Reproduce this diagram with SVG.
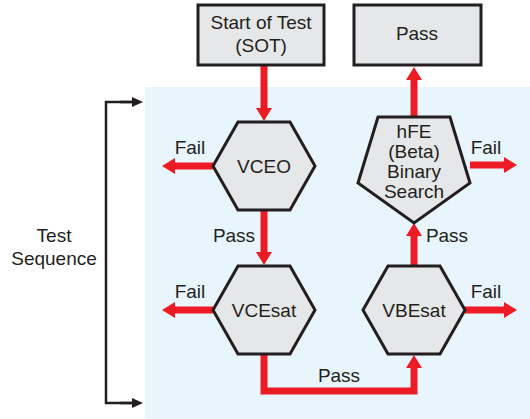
<svg xmlns="http://www.w3.org/2000/svg" width="530" height="419" viewBox="0 0 530 419">
<style>
.node{fill:#e6e7e8;stroke:#231f20;stroke-width:3;stroke-linejoin:miter}
.t{font-family:"Liberation Sans",Arial,sans-serif;font-size:19px;fill:#231f20;text-anchor:middle}
.red{stroke:#ed1c24;stroke-width:7;fill:none}
.blk{stroke:#231f20;stroke-width:2.5;fill:none}
</style>
<defs>
<marker id="ah" markerUnits="userSpaceOnUse" markerWidth="14" markerHeight="16" refX="0" refY="8" orient="auto">
<path d="M0,0 L13,8 L0,16 Z" fill="#ed1c24"/>
</marker>
<marker id="bh" markerUnits="userSpaceOnUse" markerWidth="12" markerHeight="10" refX="0" refY="5" orient="auto">
<path d="M0,0 L11,5 L0,10 Z" fill="#231f20"/>
</marker>
</defs>
<rect x="145" y="87" width="385" height="332" fill="#e8f5fc"/>
<g id="connectors">
<line class="red" x1="264" y1="65" x2="264" y2="108" marker-end="url(#ah)"/>
<line class="red" x1="264" y1="210" x2="264" y2="252" marker-end="url(#ah)"/>
<polyline class="red" points="264,354 264,391 414,391 414,368" marker-end="url(#ah)"/>
<line class="red" x1="414" y1="266" x2="414" y2="236" marker-end="url(#ah)"/>
<line class="red" x1="414" y1="117" x2="414" y2="80" marker-end="url(#ah)"/>
<line class="red" x1="213" y1="166" x2="175" y2="166" marker-end="url(#ah)"/>
<line class="red" x1="213" y1="310" x2="175" y2="310" marker-end="url(#ah)"/>
<line class="red" x1="470" y1="165" x2="504" y2="165" marker-end="url(#ah)"/>
<line class="red" x1="465" y1="310" x2="504" y2="310" marker-end="url(#ah)"/>
<polyline class="blk" points="132,102 106,102 106,403 132,403"/>
<line class="blk" x1="120" y1="102" x2="132" y2="102" marker-end="url(#bh)"/>
<line class="blk" x1="120" y1="403" x2="132" y2="403" marker-end="url(#bh)"/>
<text class="t" x="190" y="154">Fail</text>
<text class="t" x="190" y="298">Fail</text>
<text class="t" x="486" y="154">Fail</text>
<text class="t" x="486" y="298">Fail</text>
<text class="t" x="234" y="242">Pass</text>
<text class="t" x="447" y="242">Pass</text>
<text class="t" x="339" y="382">Pass</text>
</g>
<g id="sot">
<rect class="node" x="198" y="5" width="126" height="60"/>
<text class="t" x="261" y="29">Start of Test</text>
<text class="t" x="261" y="52">(SOT)</text>
</g>
<g id="pass">
<rect class="node" x="354" y="5" width="127" height="60"/>
<text class="t" x="417" y="40">Pass</text>
</g>
<g id="vceo">
<polygon class="node" points="213,166 238,122 290,122 315,166 290,210 238,210"/>
<text class="t" x="264" y="173">VCEO</text>
</g>
<g id="vcesat">
<polygon class="node" points="213,310 238,266 290,266 315,310 290,354 238,354"/>
<text class="t" x="264" y="317">VCEsat</text>
</g>
<g id="vbesat">
<polygon class="node" points="363,310 388,266 440,266 465,310 440,354 388,354"/>
<text class="t" x="414" y="317">VBEsat</text>
</g>
<g id="hfe">
<polygon class="node" points="378,117 450,117 470,183 414,223 358,183"/>
<text class="t" x="414" y="138">hFE</text>
<text class="t" x="414" y="158">(Beta)</text>
<text class="t" x="414" y="178">Binary</text>
<text class="t" x="414" y="198">Search</text>
</g>
<g id="testseq">
<text class="t" x="54" y="242">Test</text>
<text class="t" x="54" y="265">Sequence</text>
</g>
</svg>
